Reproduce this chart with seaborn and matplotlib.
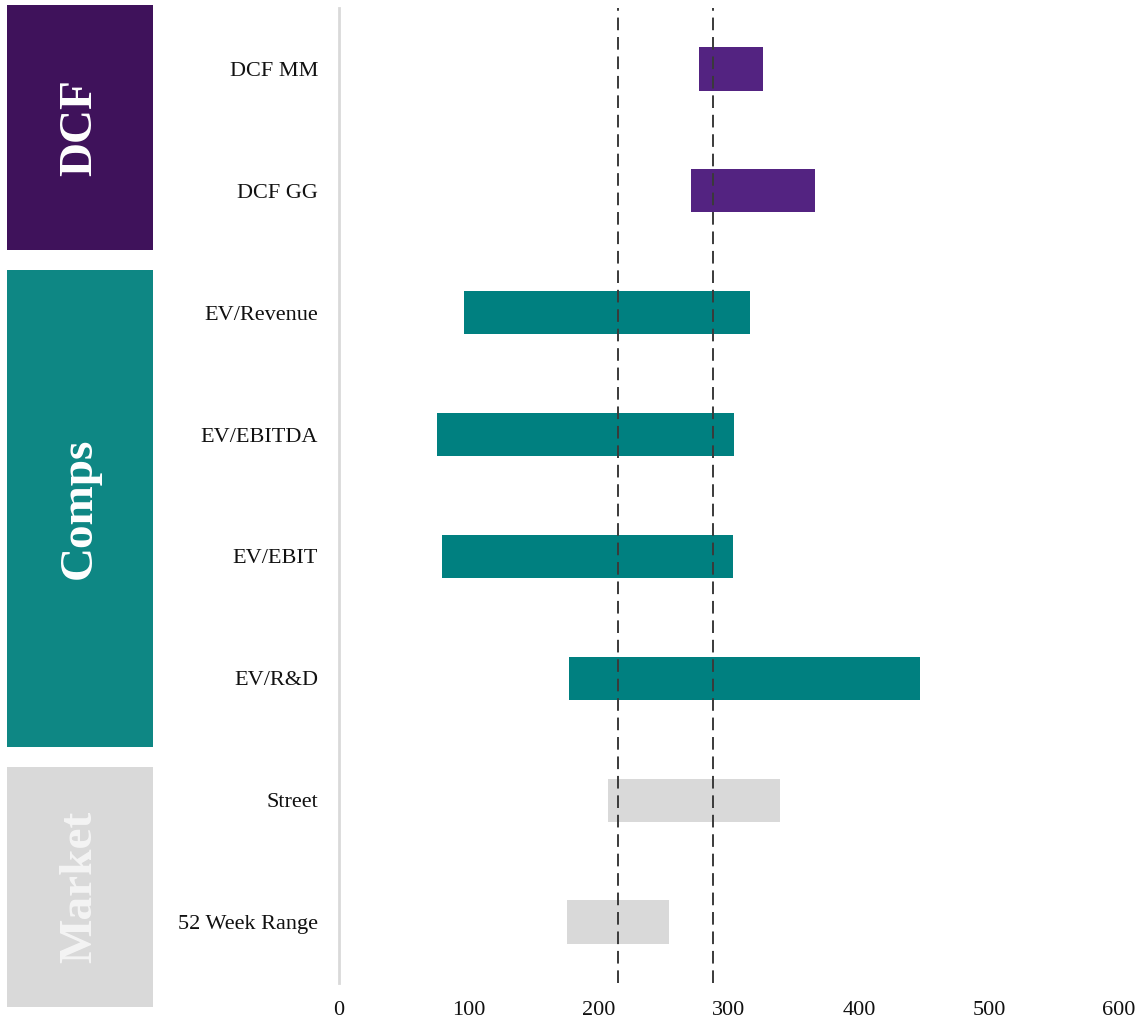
import matplotlib
matplotlib.use("Agg")
import matplotlib.pyplot as plt
import matplotlib.patches as mpatches
import numpy as np
import pandas as pd
import seaborn as sns

# Valuation ranges (share price) per method
methods = ["DCF MM", "DCF GG", "EV/Revenue", "EV/EBITDA", "EV/EBIT",
           "EV/R&D", "Street", "52 Week Range"]
low = [277, 271, 96, 75, 79, 177, 207, 175]
high = [326, 366, 316, 304, 303, 447, 339, 254]
groups = ["DCF", "DCF", "Comps", "Comps", "Comps", "Comps", "Market", "Market"]

# Reference price lines
ref_lines = [214.5, 288]

x_ticks = [0, 100, 200, 300, 400, 500, 600]

bar_colors = {"DCF": "#532381", "Comps": "#008080", "Market": "#d9d9d9"}
box_colors = {"DCF": "#3f125b", "Comps": "#0e8784", "Market": "#d9d9d9"}
box_text_colors = {"DCF": "white", "Comps": "white", "Market": "#f4f4f4"}

sns.set_theme(style="white")
plt.rcParams["font.family"] = ["Liberation Serif", "DejaVu Serif"]

df = pd.DataFrame({"method": methods, "low": low, "high": high, "group": groups})
df["span"] = df["high"] - df["low"]

W, H = 1135, 1023
fig = plt.figure(figsize=(W / 100, H / 100), dpi=100)
ax = fig.add_axes([339 / W, 40 / H, 780 / W, 975 / H])

palette = {m: bar_colors[g] for m, g in zip(methods, groups)}
sns.barplot(data=df, y="method", x="span", hue="method", palette=palette,
            order=methods, hue_order=methods, orient="h", width=0.355,
            legend=False, saturation=1, ax=ax)

# shift each bar so it starts at the low end of its range
for p in ax.patches:
    idx = int(round(p.get_y() + p.get_height() / 2))
    p.set_x(df["low"].iloc[idx])
    p.set_linewidth(0)

for v in ref_lines:
    ax.axvline(v, color="#3a3a3a", lw=1.4, ls=(0, (6.5, 3.5)), zorder=5)

ax.set_xlim(0, 600)
ax.set_ylim(len(methods) - 0.5, -0.5)
ax.set_xticks(x_ticks)
ax.set_xticklabels([str(t) for t in x_ticks])
ax.set_xlabel("")
ax.set_ylabel("")
ax.tick_params(axis="both", length=0, labelsize=16, colors="#111111")
ax.tick_params(axis="y", pad=15)
ax.tick_params(axis="x", pad=13)
for side in ["top", "right", "bottom"]:
    ax.spines[side].set_visible(False)
ax.spines["left"].set_color("#d9d9d9")
ax.spines["left"].set_linewidth(2)

# Group boxes on the left (pixel extents: top, bottom)
box_spans = {"DCF": (5, 250), "Comps": (270, 747), "Market": (767, 1007)}
bx0, bx1 = 7, 153
for g, (top, bot) in box_spans.items():
    rect = mpatches.Rectangle((bx0 / W, 1 - bot / H), (bx1 - bx0) / W,
                              (bot - top) / H, transform=fig.transFigure,
                              facecolor=box_colors[g], edgecolor="none")
    fig.patches.append(rect)
    fig.text((bx0 + bx1) / 2 / W, 1 - (top + bot) / 2 / H, g,
             rotation=90, ha="center", va="center", fontsize=34,
             fontweight="bold", color=box_text_colors[g])

fig.savefig("out.png", dpi=100)
